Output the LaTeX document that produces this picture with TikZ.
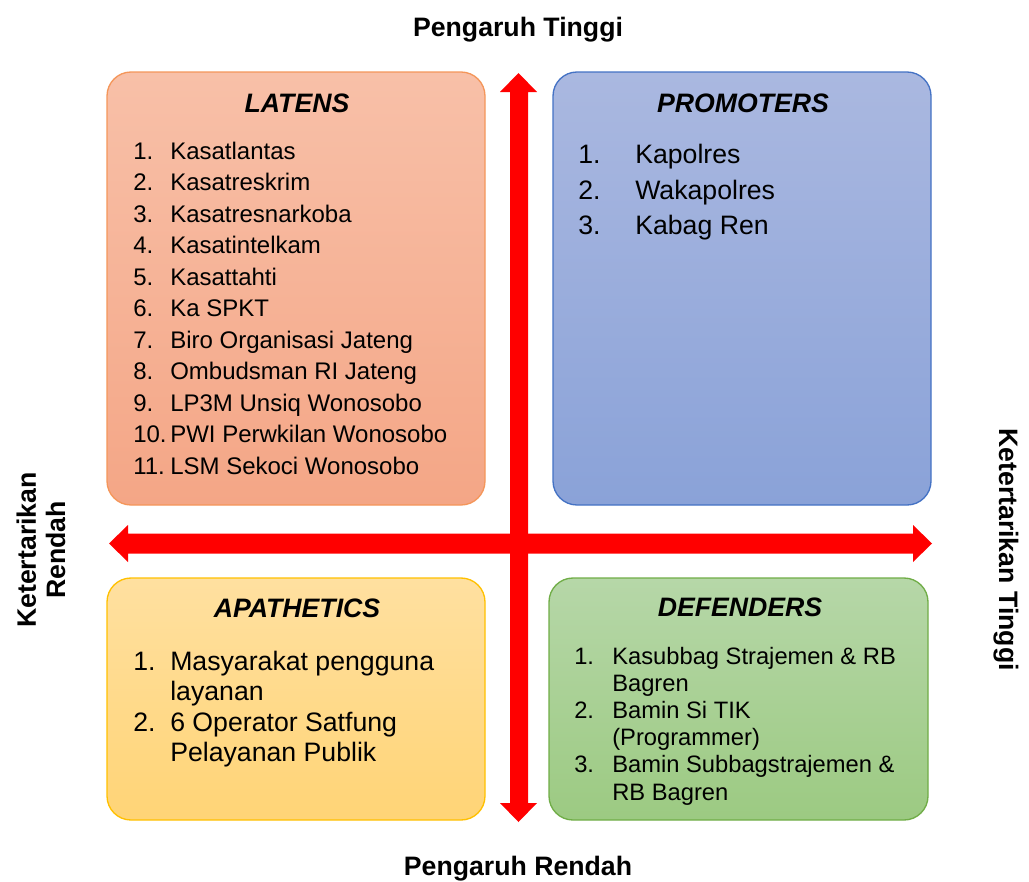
\documentclass[tikz,border=0pt]{standalone}
\usepackage{fontspec}
\setmainfont{Liberation Sans}
\begin{document}
\begin{tikzpicture}[x=0.75pt,y=-0.75pt,
  quad/.style={rounded corners=18, line width=1pt},
  ttl/.style={inner sep=0, anchor=base, font=\fontsize{20pt}{24pt}\selectfont\bfseries\itshape},
  axis/.style={inner sep=0, font=\fontsize{20pt}{24pt}\selectfont\bfseries},
  itA/.style={inner sep=0, anchor=base west, font=\fontsize{18pt}{21pt}\selectfont},
  itB/.style={inner sep=0, anchor=base west, font=\fontsize{20pt}{24pt}\selectfont},
  itC/.style={inner sep=0, anchor=base west, font=\fontsize{17.8pt}{21pt}\selectfont},
  redarrow/.style={fill=red, draw=none}]
\definecolor{latT}{RGB}{248,192,168}\definecolor{latB}{RGB}{244,166,134}\definecolor{latD}{RGB}{244,150,90}
\definecolor{proT}{RGB}{170,184,224}\definecolor{proB}{RGB}{138,162,216}\definecolor{proD}{RGB}{68,114,196}
\definecolor{apaT}{RGB}{255,224,160}\definecolor{apaB}{RGB}{255,212,118}\definecolor{apaD}{RGB}{255,192,0}
\definecolor{defT}{RGB}{182,215,168}\definecolor{defB}{RGB}{156,202,130}\definecolor{defD}{RGB}{112,173,71}
\useasboundingbox (0,0) rectangle (1029,882);
% quadrants
\draw[quad, draw=latD, top color=latT, bottom color=latB] (107,72) rectangle (485,505);
\draw[quad, draw=proD, top color=proT, bottom color=proB] (553,72) rectangle (931,505);
\draw[quad, draw=apaD, top color=apaT, bottom color=apaB] (107,578) rectangle (485,820);
\draw[quad, draw=defD, top color=defT, bottom color=defB] (549,578) rectangle (928,820);
% arrows
\fill[redarrow] (518.5,73) -- (537,92) -- (528,92) -- (528,803) -- (537,803) -- (518.5,822)
  -- (500,803) -- (510,803) -- (510,92) -- (500,92) -- cycle;
\fill[redarrow] (109,543.5) -- (128,525) -- (128,533.5) -- (913,533.5) -- (913,525) -- (932,543.5)
  -- (913,562) -- (913,553.5) -- (128,553.5) -- (128,562) -- cycle;
% axis labels
\node[axis, anchor=base] (pt) at (518,36) {Pengaruh Tinggi};
\node[axis, anchor=base] (pr) at (518,875) {Pengaruh Rendah};
\node[axis, rotate=90, align=center, font=\fontsize{20pt}{22pt}\selectfont\bfseries] (kr) at (41,550) {Ketertarikan\\Rendah};
\node[axis, rotate=-90] (kt) at (1006,549.5) {Ketertarikan Tinggi};
% titles
\node[ttl] (tlat) at (297,112) {LATENS};
\node[ttl] (tpro) at (743,112) {PROMOTERS};
\node[ttl] (tapa) at (297,617) {APATHETICS};
\node[ttl] (tdef) at (740,616) {DEFENDERS};
% LATENS list
\foreach \t [count=\i] in {Kasatlantas,Kasatreskrim,Kasatresnarkoba,Kasatintelkam,Kasattahti,Ka SPKT,Biro Organisasi Jateng,Ombudsman RI Jateng,LP3M Unsiq Wonosobo,PWI Perwkilan Wonosobo,LSM Sekoci Wonosobo}{
  \node[itA] (latn\i) at (133,{159+31.5*(\i-1)}) {\i.};
  \node[itA] (lat\i) at (170,{159+31.5*(\i-1)}) {\t};
}
% PROMOTERS list
\foreach \t [count=\i] in {Kapolres,Wakapolres,Kabag Ren}{
  \node[itB] (pron\i) at (578,{163.5+35.5*(\i-1)}) {\i.};
  \node[itB] (pro\i) at (635,{163.5+35.5*(\i-1)}) {\t};
}
% APATHETICS list
\node[itB] (apan1) at (133,670) {1.};
\node[itB] (apa1a) at (170,670) {Masyarakat pengguna};
\node[itB] (apa1b) at (170,700.5) {layanan};
\node[itB] (apan2) at (133,731) {2.};
\node[itB] (apa2a) at (170,731) {6 Operator Satfung};
\node[itB] (apa2b) at (170,761.5) {Pelayanan Publik};
% DEFENDERS list
\node[itC] (defn1) at (574,664) {1.};
\node[itC] (def1a) at (612,664) {Kasubbag Strajemen \& RB};
\node[itC] (def1b) at (612,691.2) {Bagren};
\node[itC] (defn2) at (574,718.4) {2.};
\node[itC] (def2a) at (612,718.4) {Bamin Si TIK};
\node[itC] (def2b) at (612,745.6) {(Programmer)};
\node[itC] (defn3) at (574,772.8) {3.};
\node[itC] (def3a) at (612,772.8) {Bamin Subbagstrajemen \&};
\node[itC] (def3b) at (612,800) {RB Bagren};
\end{tikzpicture}
\end{document}
